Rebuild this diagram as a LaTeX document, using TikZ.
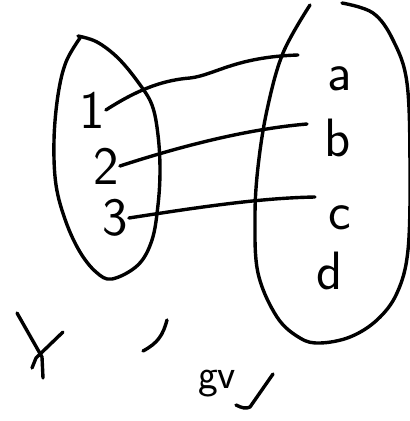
\documentclass[tikz,border=0pt]{standalone}
\usetikzlibrary{positioning}

\begin{document}
\begin{tikzpicture}[x=1pt, y=-1pt,
  stroke/.style={line width=3.4pt, line cap=round, line join=round},
  elem/.style={font=\fontsize{54}{54}\selectfont\sffamily, inner sep=1pt},
  note/.style={font=\fontsize{42}{42}\selectfont\sffamily, inner sep=0pt}]
  \useasboundingbox (0,0) rectangle (410,421);

  % the two sets
  \draw[stroke] plot[smooth, tension=0.6] coordinates {(78,36) (97,42)
    (118,58) (138,82) (152,105) (158,135) (160,170) (158,205) (152,240)
    (138,265) (112,279) (96,272) (80,252) (66,222) (56,185) (54,140)
    (58,95) (66,62) (80,38)};
  \draw[stroke] plot[smooth, tension=0.6] coordinates {(310,5) (283,53)
    (267,110) (258,167) (255,217) (258,273) (277,317) (300,338) (320,343)
    (350,337) (377,320) (397,293) (408,250) (410,167) (407,83) (393,40)
    (373,13) (342,3)};

  % elements
  \node[elem] (n1) at (92,110) {1};
  \node[elem] (n2) at (106,166) {2};
  \node[elem] (n3) at (115,218) {3};
  \node[elem] (a) at (340,79) {a};
  \node[elem] (b) at (338,138) {b};
  \node[elem] (c) at (340,218) {c};
  \node[elem] (d) at (330,271) {d};

  \coordinate (ea) at (298,55);
  \coordinate (eb) at (307,124);
  \coordinate (ec) at (315,197);

  \draw[stroke] (n1.east) .. controls (140,88) and (165,80) .. (190,78)
    .. controls (215,75) and (235,57) .. (ea);
  \draw[stroke] (n2.east) .. controls (200,140) and (260,128) .. (eb);
  \draw[stroke] (n3.east) .. controls (200,207) and (260,198) .. (ec);

  % marks
  \draw[stroke] (17,313) -- (42,357) -- (43,378);
  \draw[stroke] (63,332) -- (36,358) -- (32,368);
  \draw[stroke] (167,320) .. controls (163,335) and (158,343) .. (143,351);
  \node[note] (gv) at (217,384) {gv};
  \draw[stroke] (236,405) .. controls (242,408) and (246,409) .. (250,407)
    -- (273,374);
\end{tikzpicture}
\end{document}
